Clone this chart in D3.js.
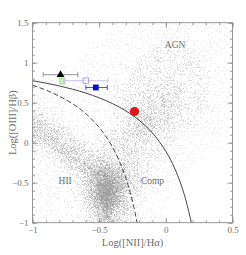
<!DOCTYPE html>
<html lang="en">
<head>
<meta charset="UTF-8">
<title>BPT diagram</title>
<script src="https://cdn.jsdelivr.net/npm/d3@7"></script>
<style>
  body { margin: 0; background: #fff; }
  text { font-family: "Liberation Serif", "DejaVu Serif", serif; fill: #6e6e6e; }
</style>
</head>
<body>
<svg width="246" height="255" id="main"></svg>
<script>
  // ---- data ----
  const xDomain = [-1, 0.5];
  const yDomain = [-1, 1.5];
  const xMajor = [-1, -0.5, 0, 0.5];
  const yMajor = [-1, -0.5, 0, 0.5, 1, 1.5];

  // density of the galaxy cloud (0 = empty, 9 = darkest)
  const gridX = [-0.95, -0.85, -0.75, -0.65, -0.55, -0.45, -0.35, -0.25, -0.15, -0.05, 0.05, 0.15, 0.25, 0.35, 0.45];
  const gridY = [1.4375, 1.3125, 1.1875, 1.0625, 0.9375, 0.8125, 0.6875, 0.5625, 0.4375, 0.3125,
                 0.1875, 0.0625, -0.0625, -0.1875, -0.3125, -0.4375, -0.5625, -0.6875, -0.8125, -0.9375];
  const gridDensity = [
    [0,0,0,0,0,0,1,1,1,1,1,1,1,1,1],
    [0,0,0,0,0,1,1,1,1,1,1,1,1,1,1],
    [0,0,0,0,1,1,1,1,1,2,2,2,1,1,1],
    [0,0,0,1,1,1,1,1,2,2,2,2,2,1,1],
    [0,0,1,1,1,1,1,2,2,2,2,2,2,1,1],
    [1,1,1,1,1,1,1,2,2,2,2,2,2,1,1],
    [1,1,1,1,1,1,2,2,2,3,3,2,2,1,1],
    [1,1,1,1,1,1,2,2,3,3,3,2,2,1,1],
    [2,1,1,1,1,1,2,3,3,3,3,2,2,1,1],
    [3,2,1,1,1,1,2,3,4,3,3,2,1,1,1],
    [4,3,2,1,1,1,2,3,4,3,2,2,1,1,1],
    [4,4,3,2,1,2,3,3,3,2,2,1,1,1,1],
    [2,4,4,3,2,2,3,3,2,2,1,1,1,1,0],
    [1,2,4,4,3,3,3,3,2,2,1,1,1,0,0],
    [1,1,2,4,5,5,4,3,2,1,1,1,0,0,0],
    [1,1,1,2,5,7,5,3,2,1,1,1,0,0,0],
    [1,1,1,2,5,9,6,3,2,1,1,0,0,0,0],
    [1,1,1,2,5,9,5,2,1,1,1,0,0,0,0],
    [1,1,1,1,3,7,4,2,1,1,0,0,0,0,0],
    [1,1,1,1,3,5,3,2,1,1,0,0,0,0,0]
  ];

  // demarcation lines (solid and dashed)
  const solidX = [-1, -0.9, -0.8, -0.7, -0.6, -0.5, -0.4, -0.3, -0.2, -0.1, -0.05, 0, 0.05, 0.1, 0.15, 0.193];
  const solidY = [0.775, 0.745, 0.710, 0.669, 0.620, 0.561, 0.489, 0.398, 0.280, 0.120, 0.017, -0.108, -0.262, -0.459, -0.716, -1.012];
  const dashX = [-1, -0.9, -0.8, -0.7, -0.6, -0.5, -0.45, -0.4, -0.35, -0.3, -0.25, -0.215];
  const dashY = [0.719, 0.658, 0.582, 0.487, 0.362, 0.191, 0.080, -0.056, -0.225, -0.443, -0.733, -1.002];

  // observed objects
  const ptX    = [-0.79, -0.776, -0.60, -0.525, -0.235];
  const ptY    = [0.85, 0.77, 0.775, 0.69, 0.39];
  const ptXLo  = [-0.92, null, -0.765, -0.60, null];
  const ptXHi  = [-0.66, null, -0.435, -0.44, null];
  const ptYErr = [0.03, 0.04, 0.02, 0.03, 0];

  const regionNames = ['AGN', 'HII', 'Comp'];
  const regionX = [0.07, -0.755, -0.10];
  const regionY = [1.23, -0.48, -0.48];

  // ---- styles ----
  const markerStyle = [
    {shape: d3.symbolTriangle, size: 26, fill: '#000', stroke: 'none', bar: '#8a8a8a'},
    {shape: d3.symbolSquare, size: 30, fill: '#cfeebb', stroke: '#a8dc8c', bar: '#b5e29c'},
    {shape: d3.symbolSquare, size: 30, fill: 'none', stroke: '#a99be0', bar: '#c4b9ef'},
    {shape: d3.symbolSquare, size: 34, fill: '#0a0ad2', stroke: 'none', bar: '#3b3be0'},
    {shape: d3.symbolCircle, size: 66, fill: '#e5141a', stroke: 'none', bar: '#e5141a'}
  ];

  const svg = d3.select('#main');
  const plot = {left: 32.5, top: 22.7, width: 200, height: 200};
  const x = d3.scaleLinear().domain(xDomain).range([plot.left, plot.left + plot.width]);
  const y = d3.scaleLinear().domain(yDomain).range([plot.top + plot.height, plot.top]);
  const fmt = d => d === 0 ? '0' : d3.format('~g')(d);

  // ---- speckled density cloud ----
  const defs = svg.append('defs');
  defs.append('clipPath').attr('id', 'plotClip')
    .append('rect')
    .attr('x', plot.left).attr('y', plot.top)
    .attr('width', plot.width).attr('height', plot.height);

  const f = defs.append('filter').attr('id', 'speck')
    .attr('filterUnits', 'userSpaceOnUse')
    .attr('x', plot.left - 20).attr('y', plot.top - 20)
    .attr('width', plot.width + 40).attr('height', plot.height + 40)
    .attr('color-interpolation-filters', 'sRGB');
  f.append('feGaussianBlur').attr('in', 'SourceGraphic').attr('stdDeviation', 5).attr('result', 'dens');
  f.append('feTurbulence').attr('type', 'fractalNoise').attr('baseFrequency', 1.7)
    .attr('numOctaves', 1).attr('seed', 7).attr('result', 'noise');
  f.append('feColorMatrix').attr('in', 'noise').attr('type', 'matrix')
    .attr('values', '0 0 0 0 0  0 0 0 0 0  0 0 0 0 0  3 0 0 0 -1').attr('result', 'thresh');
  f.append('feComposite').attr('in', 'dens').attr('in2', 'thresh').attr('operator', 'arithmetic')
    .attr('k1', 0).attr('k2', 1.75).attr('k3', -1).attr('k4', 0).attr('result', 'dots');
  f.append('feColorMatrix').attr('in', 'dots').attr('type', 'matrix')
    .attr('values', '0 0 0 0 0.38  0 0 0 0 0.38  0 0 0 0 0.38  0 0 0 0.6 0');

  const cloud = svg.append('g').attr('clip-path', 'url(#plotClip)')
    .append('g').attr('filter', 'url(#speck)');

  const cells = [];
  gridY.forEach((gy, r) => gridX.forEach((gx, c) => cells.push({gx, gy, r, c, v: gridDensity[r][c]})));
  const pad = 14;
  cloud.selectAll('rect').data(cells).enter().append('rect')
    .attr('x', d => x(d.gx - 0.05) - (d.c === 0 ? pad : 0))
    .attr('y', d => y(d.gy + 0.0625) - (d.r === 0 ? pad : 0))
    .attr('width', d => x(d.gx + 0.05) - x(d.gx - 0.05) + (d.c === 0 || d.c === gridX.length - 1 ? pad : 0) + 0.5)
    .attr('height', d => y(d.gy - 0.0625) - y(d.gy + 0.0625) + (d.r === 0 || d.r === gridY.length - 1 ? pad : 0) + 0.5)
    .attr('fill', '#000')
    .attr('fill-opacity', d => d.v / 9);

  // ---- demarcation curves ----
  const line = d3.line().x(d => x(d[0])).y(d => y(d[1])).curve(d3.curveMonotoneX);
  const curves = svg.append('g').attr('clip-path', 'url(#plotClip)');
  curves.append('path').datum(solidX.map((v, i) => [v, solidY[i]]))
    .attr('d', line).attr('fill', 'none').attr('stroke', '#333').attr('stroke-width', 0.9);
  curves.append('path').datum(dashX.map((v, i) => [v, dashY[i]]))
    .attr('d', line).attr('fill', 'none').attr('stroke', '#333').attr('stroke-width', 0.9)
    .attr('stroke-dasharray', '5,2.5');

  // ---- region labels ----
  svg.append('g').selectAll('text').data(regionNames).enter().append('text')
    .attr('x', (d, i) => x(regionX[i]))
    .attr('y', (d, i) => y(regionY[i]))
    .attr('dy', '0.35em')
    .attr('text-anchor', 'middle')
    .attr('font-size', 9.5)
    .text(d => d);

  // ---- observed points with error bars ----
  const pts = ptX.map((v, i) => ({x: v, y: ptY[i], lo: ptXLo[i], hi: ptXHi[i], ye: ptYErr[i], s: markerStyle[i]}));
  const pg = svg.append('g').selectAll('g').data(pts).enter().append('g');
  pg.filter(d => d.lo !== null).each(function(d) {
    const g = d3.select(this);
    g.append('line').attr('x1', x(d.lo)).attr('x2', x(d.hi)).attr('y1', y(d.y)).attr('y2', y(d.y));
    g.append('line').attr('x1', x(d.lo)).attr('x2', x(d.lo)).attr('y1', y(d.y) - 2.5).attr('y2', y(d.y) + 2.5);
    g.append('line').attr('x1', x(d.hi)).attr('x2', x(d.hi)).attr('y1', y(d.y) - 2.5).attr('y2', y(d.y) + 2.5);
  });
  pg.filter(d => d.ye > 0).append('line')
    .attr('x1', d => x(d.x)).attr('x2', d => x(d.x))
    .attr('y1', d => y(d.y + d.ye)).attr('y2', d => y(d.y - d.ye));
  pg.selectAll('line').attr('stroke', d => d.s.bar).attr('stroke-width', 0.9);
  pg.append('path')
    .attr('transform', d => `translate(${x(d.x)},${y(d.y)})`)
    .attr('d', d => d3.symbol().type(d.s.shape).size(d.s.size)())
    .attr('fill', d => d.s.fill === 'none' ? '#fff' : d.s.fill)
    .attr('fill-opacity', d => d.s.fill === 'none' ? 0.6 : 1)
    .attr('stroke', d => d.s.stroke)
    .attr('stroke-width', 0.9);

  // ---- axes (ticks inward on every side) ----
  const xMinor = d3.range(-1, 0.5001, 0.1);
  const yMinor = d3.range(-1, 1.5001, 0.1);
  const axisCol = '#8a8a8a';
  function styleAxis(g) {
    g.select('.domain').remove();
    g.selectAll('line').attr('stroke', axisCol).attr('stroke-width', 0.8);
    g.selectAll('text').attr('font-size', 9);
  }
  const bottom = plot.top + plot.height, right = plot.left + plot.width;
  svg.append('g').attr('transform', `translate(0,${bottom})`)
    .call(d3.axisBottom(x).tickValues(xMajor).tickFormat(fmt).tickSize(-5).tickPadding(4)).call(styleAxis);
  svg.append('g').attr('transform', `translate(0,${bottom})`)
    .call(d3.axisBottom(x).tickValues(xMinor).tickFormat('').tickSize(-2.5)).call(styleAxis);
  svg.append('g').attr('transform', `translate(0,${plot.top})`)
    .call(d3.axisTop(x).tickValues(xMajor).tickFormat('').tickSize(-5)).call(styleAxis);
  svg.append('g').attr('transform', `translate(0,${plot.top})`)
    .call(d3.axisTop(x).tickValues(xMinor).tickFormat('').tickSize(-2.5)).call(styleAxis);
  svg.append('g').attr('transform', `translate(${plot.left},0)`)
    .call(d3.axisLeft(y).tickValues(yMajor).tickFormat(fmt).tickSize(-5).tickPadding(4)).call(styleAxis);
  svg.append('g').attr('transform', `translate(${plot.left},0)`)
    .call(d3.axisLeft(y).tickValues(yMinor).tickFormat('').tickSize(-2.5)).call(styleAxis);
  svg.append('g').attr('transform', `translate(${right},0)`)
    .call(d3.axisRight(y).tickValues(yMajor).tickFormat('').tickSize(-5)).call(styleAxis);
  svg.append('g').attr('transform', `translate(${right},0)`)
    .call(d3.axisRight(y).tickValues(yMinor).tickFormat('').tickSize(-2.5)).call(styleAxis);

  svg.append('rect')
    .attr('x', plot.left).attr('y', plot.top)
    .attr('width', plot.width).attr('height', plot.height)
    .attr('fill', 'none').attr('stroke', axisCol).attr('stroke-width', 0.9);

  // ---- axis titles ----
  svg.append('text')
    .attr('x', plot.left + plot.width / 2).attr('y', 246)
    .attr('text-anchor', 'middle').attr('font-size', 10.5)
    .text('Log([NII]/Hα)');
  svg.append('text')
    .attr('transform', `translate(16,${plot.top + plot.height / 2}) rotate(-90)`)
    .attr('text-anchor', 'middle').attr('font-size', 10.5)
    .text('Log([OIII]/Hβ)');
</script>
</body>
</html>
